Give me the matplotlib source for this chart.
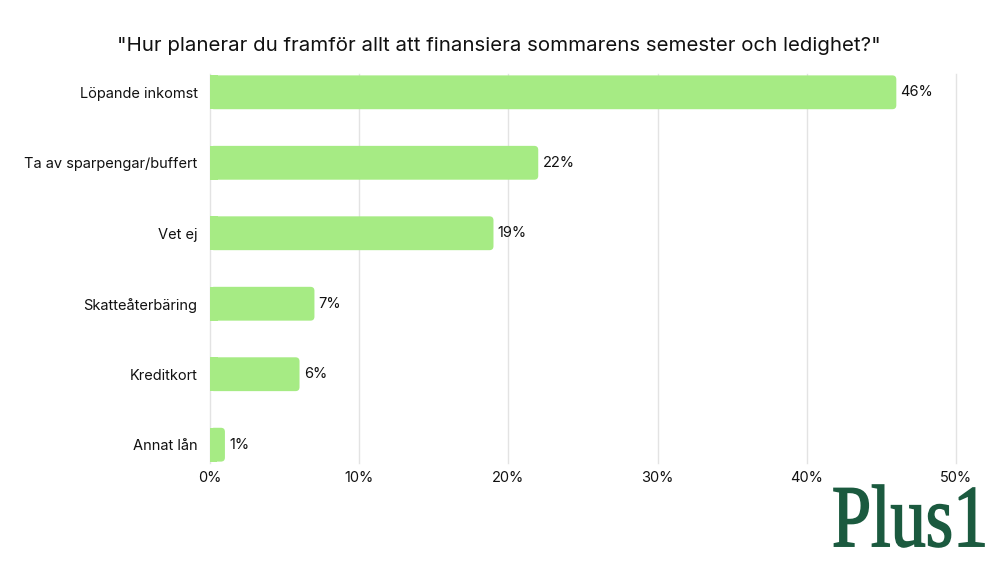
import numpy as np
import matplotlib
matplotlib.use("Agg")
import matplotlib.pyplot as plt
from matplotlib.patches import FancyBboxPatch, Rectangle, PathPatch
from matplotlib.textpath import TextPath
from matplotlib.font_manager import FontProperties
from matplotlib.transforms import Affine2D, IdentityTransform
from matplotlib.ticker import FuncFormatter

categories = ["Löpande inkomst", "Ta av sparpengar/buffert", "Vet ej",
              "Skatteåterbäring", "Kreditkort", "Annat lån"]
values = [46, 22, 19, 7, 6, 1]
xticks = [0, 10, 20, 30, 40, 50]
title = '"Hur planerar du framför allt att finansiera sommarens semester och ledighet?"'

bar_color = "#a6eb84"
logo_color = "#1b5a3f"

plt.rcParams["font.family"] = ["Inter", "DejaVu Sans"]

fig = plt.figure(figsize=(10, 5.63), dpi=100)
ax = fig.add_axes([0.21, 0.1776, 0.746, 0.691])

ax.set_xlim(0, 50)
ax.set_ylim(len(categories) - 1 + 0.26, -0.26)

bar_h = 0.48
# aspect between x data units and y data units in pixels
px_x = 746 / 50
px_y = 389 / (len(categories) - 1 + 0.52)
aspect = px_x / px_y
r = 4 / px_x

for i, v in enumerate(values):
    y0 = i - bar_h / 2
    box = FancyBboxPatch((0, y0), v, bar_h,
                         boxstyle=f"round,pad=0,rounding_size={r}",
                         mutation_aspect=aspect,
                         facecolor=bar_color, edgecolor="none", zorder=3)
    ax.add_patch(box)
    # square off the left corners
    ax.add_patch(Rectangle((0, y0), min(2 * r, v / 2), bar_h,
                           facecolor=bar_color, edgecolor="none", zorder=3))
    ax.annotate(f"{v}%", (v, i), xytext=(3, 0), textcoords="offset points",
                va="center", ha="left", fontsize=10.5, color="#111111")

ax.set_yticks(range(len(categories)))
ax.set_yticklabels(categories, fontsize=10.5, color="#111111")
ax.set_xticks(xticks)
ax.xaxis.set_major_formatter(FuncFormatter(lambda x, p: f"{x:.0f}%"))
ax.tick_params(axis="x", labelsize=10.5, colors="#111111", length=0, pad=6)
ax.tick_params(axis="y", length=0, pad=9)
ax.grid(axis="x", color="#e3e3e3", linewidth=1, zorder=0)
for gl in ax.get_xgridlines():
    gl.set_clip_on(False)
ax.set_axisbelow(True)
for s in ax.spines.values():
    s.set_visible(False)

fig.text(0.499, 0.918, title, ha="center", va="center", fontsize=14.7, color="#111111")

# logo
tp = TextPath((0, 0), "Plus1", size=100,
              prop=FontProperties(family="Liberation Serif"))
ext = tp.get_extents()
tw, th = 150, 62
sx = tw / ext.width
sy = th / ext.height
trans = Affine2D().translate(-ext.x0, -ext.y0).scale(sx, sy).translate(834, 563 - 547)
logo = PathPatch(trans.transform_path(tp), facecolor=logo_color, edgecolor=logo_color,
                 linewidth=1.2, transform=IdentityTransform())
fig.patches.append(logo)

fig.savefig("out.png", dpi=100)
